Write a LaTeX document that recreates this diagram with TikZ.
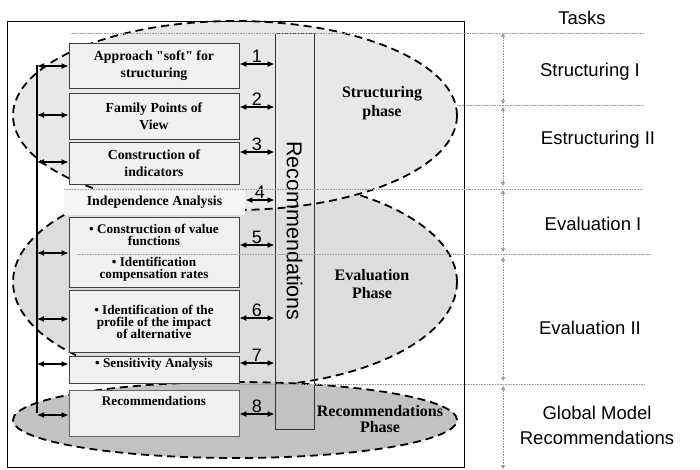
\documentclass[tikz,border=0pt]{standalone}
\usepackage{fontspec}
\setmainfont{Liberation Serif}
\newfontfamily\arial{Liberation Sans}
\usetikzlibrary{arrows.meta, positioning}
\definecolor{grisfaseuno}{HTML}{E8E8E8}
\definecolor{grisfasedos}{HTML}{DDDDDD}
\definecolor{grisfasetres}{HTML}{C2C2C2}
\definecolor{griscaja}{HTML}{F1F1F1}
\tikzstyle{fase} = [draw=black, line width=1.8pt, dash pattern=on 8pt off 5pt]
\tikzstyle{caja} = [draw=black!75, fill=griscaja, line width=0.9pt, minimum width=170pt, inner sep=2pt, align=center, font=\fontsize{13.8}{17}\selectfont\bfseries]
\tikzstyle{apretada} = [align=center, inner sep=0pt, font=\fontsize{13.2}{12.4}\selectfont\bfseries]
\tikzstyle{rotulo} = [align=center, font=\fontsize{16}{19}\selectfont\bfseries]
\tikzstyle{tarea} = [align=center, font=\arial\fontsize{18.5}{25}\selectfont]
\tikzstyle{num} = [above=0pt, inner sep=1pt, font=\arial\fontsize{18}{18}\selectfont]
\tikzstyle{flecha} = [line width=1.2pt, {Latex[length=7pt,width=6pt]}-{Latex[length=7pt,width=6pt]}]
\tikzstyle{guia} = [densely dotted, draw=gray!80, line width=0.6pt]
\tikzstyle{cota} = [guia, {Triangle[length=4pt,width=4pt]}-{Triangle[length=4pt,width=4pt]}]

\begin{document}
\begin{tikzpicture}[x=1pt, y=-1pt]
	\useasboundingbox (0,0) rectangle (700,469);
	% phases
	\draw[fase, fill=grisfasedos] (235,282) ellipse [x radius=222pt, y radius=105pt];
	\draw[fase, fill=grisfasetres] (235,420) ellipse [x radius=222pt, y radius=38pt];
	\draw[fase, fill=grisfaseuno] (235,115.5) ellipse [x radius=222pt, y radius=94.5pt];
	\draw[line width=0.8pt] (7,21) rectangle (464,467);
	% tasks
	\node[caja, minimum height=45pt] (enfoque) at (154,65.5) {Approach \textquotedbl soft\textquotedbl{} for\\structuring};
	\node[caja, minimum height=46pt] (familia) at (154,116) {Family Points of\\View};
	\node[caja, minimum height=42pt] (indicadores) at (154,163) {Construction of\\indicators};
	\node[caja, draw=none, fill=black!4, minimum width=181pt, minimum height=26pt] (independencia) at (154.5,202) {Independence Analysis};
	\node[caja, minimum height=70pt] (valor) at (154,252) {};
	\node[apretada] at (154,235) {• Construction of value\\functions};
	\node[apretada] at (154,269) {• Identification\\compensation rates};
	\node[caja, minimum height=62pt] (perfil) at (154,321) {};
	\node[apretada] at (154,322) {• Identification of the\\profile of the impact\\of alternative};
	\node[caja, minimum height=27pt] (sensibilidad) at (154,369.5) {};
	\node[apretada] at (154,364) {• Sensitivity Analysis};
	\node[caja, draw=black!60, minimum height=46pt] (recom) at (154,413) {};
	\node[apretada, below=7pt of recom.north] {Recommendations};
	% recommendations bar
	\node[draw=black!80, line width=0.9pt, minimum width=39pt, minimum height=396pt] (barra) at (294.5,231) {};
	\node[rotate=-90, font=\arial\fontsize{21.5}{22}\selectfont] at (barra.center) {Recommendations};
	% left spine
	\coordinate (eje) at (37,65);
	\coordinate (eje fin) at (37,413);
	\draw[line width=2pt] (eje) -- (eje fin);
	\foreach \c/\y in {enfoque/66, familia/115, indicadores/162, valor/253, perfil/319, sensibilidad/364, recom/415}
		\draw[flecha] (eje |- 0,\y) -- (\c.west |- 0,\y);
	\foreach \c/\y/\n in {enfoque/64/1, familia/107/2, indicadores/152/3, independencia/200/4, valor/245/5, perfil/318/6, sensibilidad/363/7, recom/414/8}
		\draw[flecha] (\c.east |- 0,\y) -- (barra.west |- 0,\y) node[num, midway] {\n};
	% guide lines
	\draw[guia] (70,33) -- (643,33);
	\draw[guia] (457,105) -- (643,105);
	\draw[guia] (64,189) -- (643,189);
	\draw[guia] (77,254) -- (650,254);
	\draw[guia] (239,384) -- (645,384);
	\draw[cota] (503,33) -- (503,104);
	\draw[cota] (503,107) -- (503,186);
	\draw[cota] (503,190) -- (503,252);
	\draw[cota] (503,257) -- (503,381);
	\draw[cota] (503,386) -- (503,469);
	% phase names
	\node[rotulo] at (382,103) {Structuring\\phase};
	\node[rotulo, font=\fontsize{16}{18}\selectfont\bfseries] at (372,284) {Evaluation\\Phase};
	\node[rotulo, font=\fontsize{16}{16}\selectfont\bfseries] at (380,419) {Recommendations\\Phase};
	% task names
	\node[tarea] at (582,18) {Tasks};
	\node[tarea] at (590,72) {Structuring I};
	\node[tarea] at (598,140) {Estructuring II};
	\node[tarea] at (593,224) {Evaluation I};
	\node[tarea] at (590,328) {Evaluation II};
	\node[tarea] at (597,425) {Global Model\\Recommendations};
\end{tikzpicture}
\end{document}
